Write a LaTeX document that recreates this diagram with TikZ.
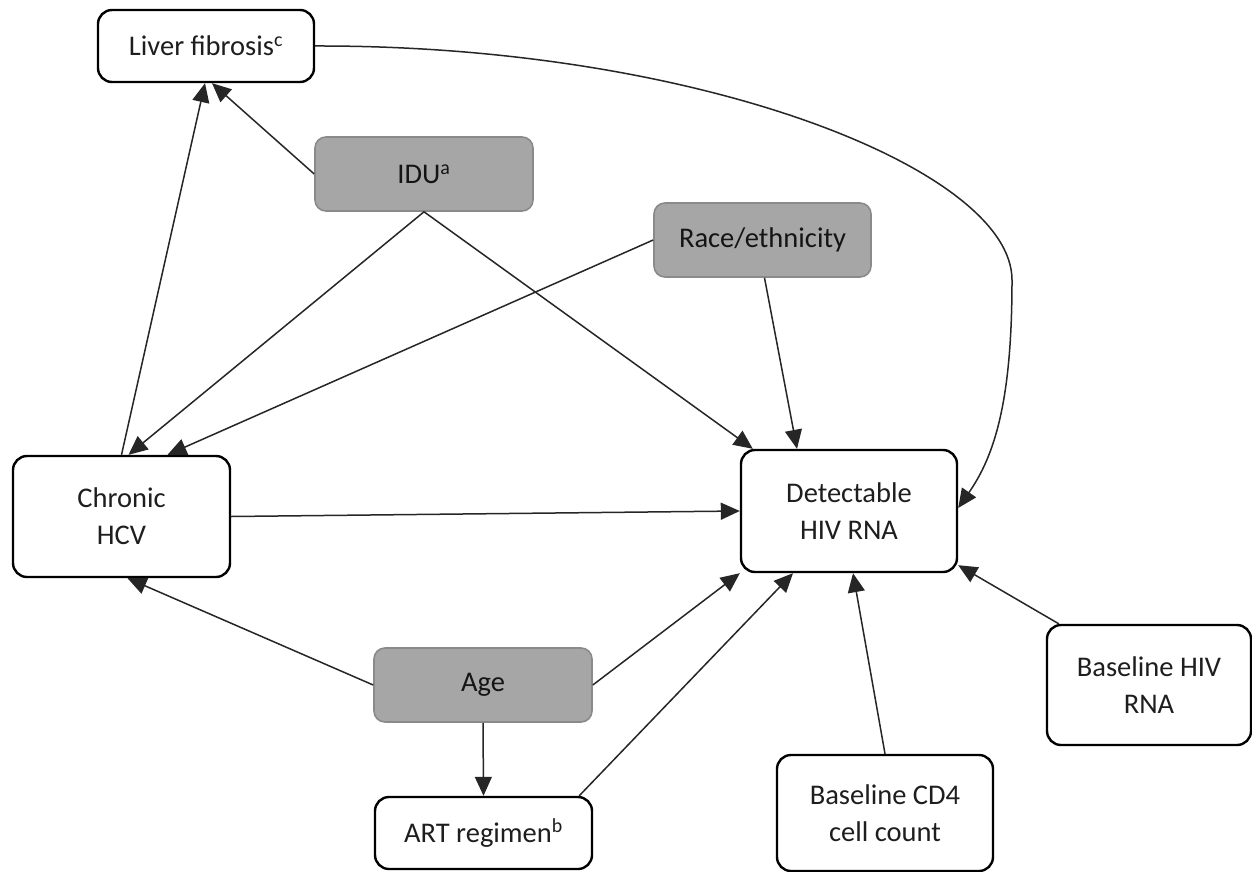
\documentclass[tikz,border=0pt]{standalone}
\usepackage{fontspec}
\setmainfont{Carlito}
\usetikzlibrary{arrows.meta,calc}
\definecolor{boxgray}{HTML}{A6A6A6}
\definecolor{boxedge}{HTML}{8A8A8A}
\definecolor{ink}{HTML}{1E1E1E}
\begin{document}
\begin{tikzpicture}[x=1pt,y=-1pt,
  every node/.style={font=\fontsize{28.5}{37}\selectfont, align=center, inner sep=0pt},
  whitebox/.style={draw=black, line width=2.4pt, fill=white, rounded corners=14pt, text=ink},
  graybox/.style={draw=boxedge, line width=1.6pt, fill=boxgray, rounded corners=11pt, text=black!92},
  link/.style={draw=black!85, line width=1.5pt, -{Triangle[length=19pt,width=17pt]}}]
\useasboundingbox (0,0) rectangle (1252,872);
\fill[white] (0,0) rectangle (1252,872);

% factors
\node[whitebox, minimum width=216pt, minimum height=72pt]  (liver) at (206,46)    {Liver fibrosis\textsuperscript{c}};
\node[graybox,  minimum width=218pt, minimum height=74pt]  (idu)   at (424,174)   {IDU\textsuperscript{a}};
\node[graybox,  minimum width=217pt, minimum height=74pt]  (race)  at (762.5,240) {Race/ethnicity};
\node[whitebox, minimum width=217pt, minimum height=121pt] (hcv)   at (121.5,516.5) {Chronic\\HCV};
\node[whitebox, minimum width=216pt, minimum height=122pt] (hiv)   at (849,511)   {Detectable\\HIV RNA};
\node[graybox,  minimum width=218pt, minimum height=74pt]  (age)   at (483,685)   {Age};
\node[whitebox, minimum width=217pt, minimum height=72pt]  (art)   at (483.5,833) {ART regimen\textsuperscript{b}};
\node[whitebox, minimum width=216pt, minimum height=116pt] (cd4)   at (885,813)   {Baseline CD4\\cell count};
\node[whitebox, minimum width=204pt, minimum height=120pt] (bhiv)  at (1149,685)  {Baseline HIV\\RNA};

% causal paths
\draw[link] (hcv.north) -- ([xshift=-1pt]liver.south);
\draw[link] (idu.west) -- ([xshift=6pt]liver.south);
\draw[link] (idu.south) -- ([xshift=7pt]hcv.north);
\draw[link] (idu.south) -- ([xshift=13pt]hiv.north west);
\draw[link] (race.west) -- ([xshift=46pt]hcv.north);
\draw[link] ([xshift=2pt]race.south) -- ([xshift=-52pt]hiv.north);
\draw[link] (liver.east) .. controls (700,45) and (1012,170) .. (1012,280)
                         .. controls (1012,400) and (995,455) .. ([yshift=3pt]hiv.east);
\draw[link] (hcv.east) -- (hiv.west);
\draw[link] (age.west) -- ([xshift=6pt]hcv.south);
\draw[link] (age.east) -- (hiv.south west);
\draw[link] (age.south) -- (art.north);
\draw[link] ([xshift=-14pt]art.north east) -- ([xshift=-56pt]hiv.south);
\draw[link] (cd4.north) -- ([xshift=4pt]hiv.south);
\draw[link] ([xshift=13pt]bhiv.north west) -- ([yshift=8pt]hiv.south east);
\end{tikzpicture}
\end{document}
